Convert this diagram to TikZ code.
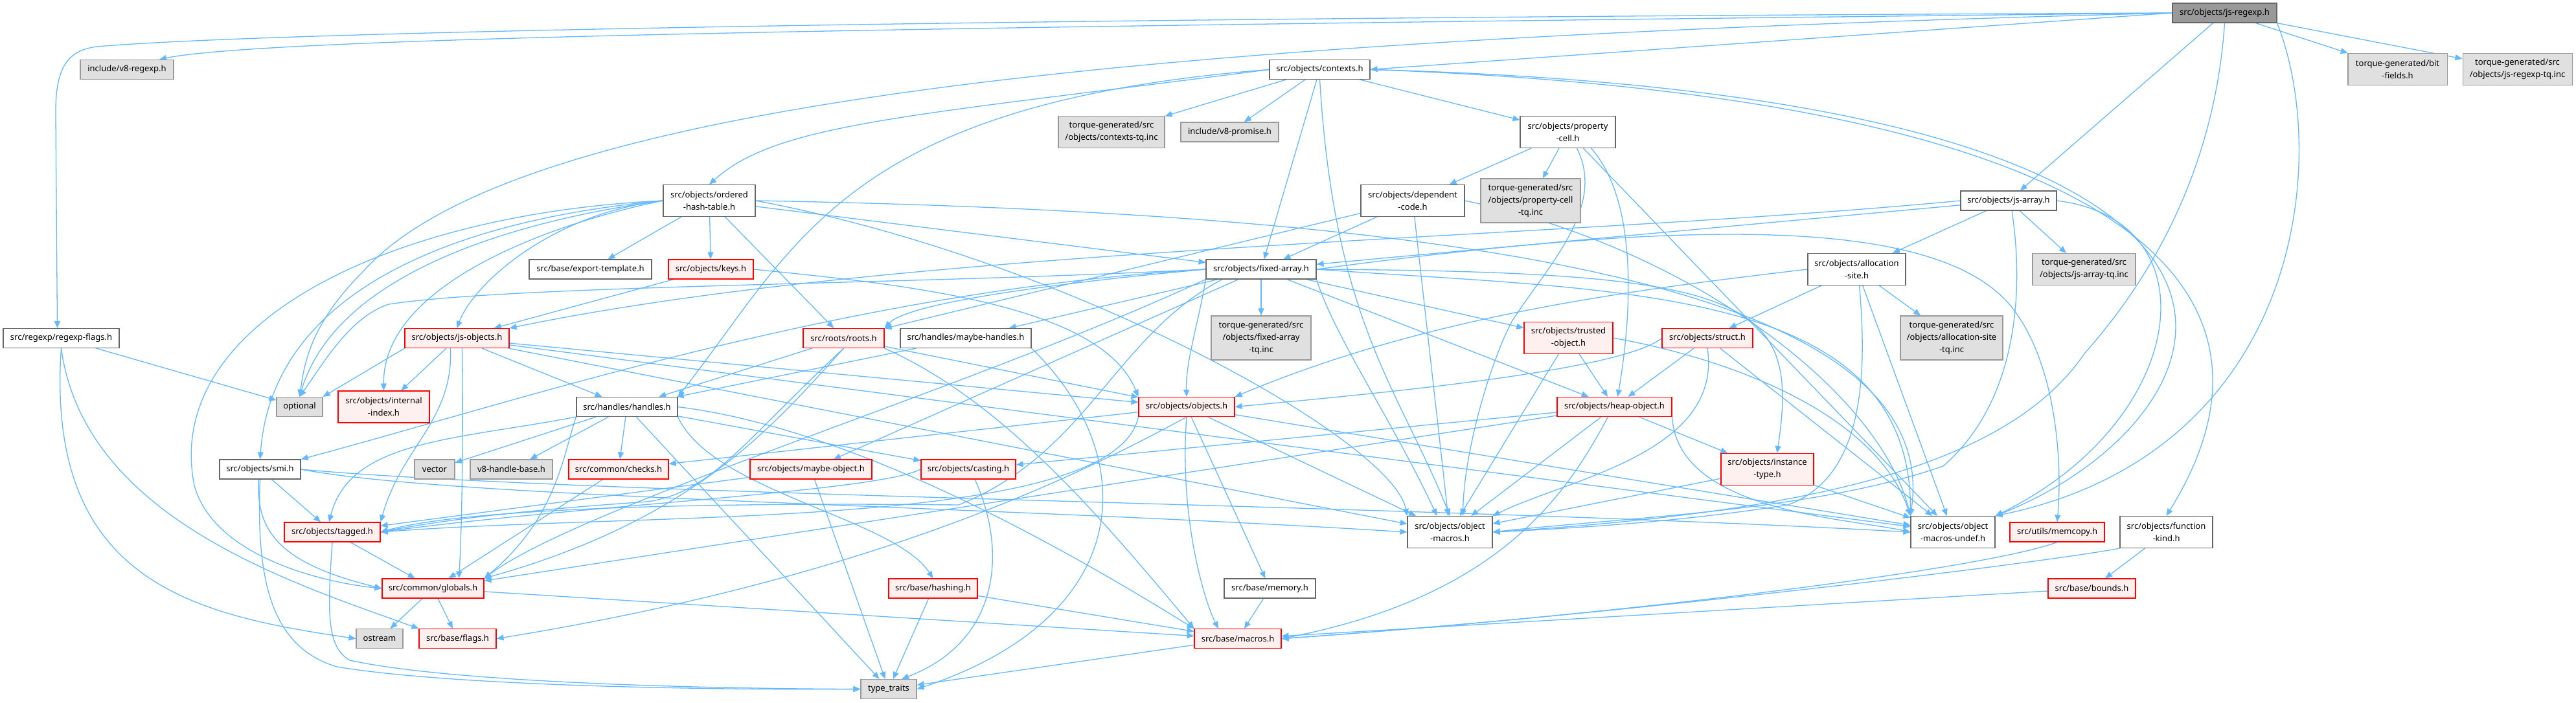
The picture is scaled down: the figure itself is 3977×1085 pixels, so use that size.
\documentclass[tikz,border=0pt]{standalone}
\usepackage{fontspec}
\setmainfont{Noto Sans}
\usetikzlibrary{arrows.meta}
\definecolor{cedge}{HTML}{63B8FF}
\definecolor{cdark}{HTML}{666666}
\definecolor{cmid}{HTML}{999999}
\definecolor{cgray}{HTML}{E0E0E0}
\definecolor{cred}{HTML}{FF0000}
\definecolor{cpink}{HTML}{FFF0F0}
\pgfdeclarelayer{bg}
\pgfsetlayers{bg,main}
\tikzset{
 box/.style={rectangle, line width=1.1pt, inner sep=0pt, align=center, font=\fontsize{13}{19}\selectfont},
 wn/.style={draw=cdark, fill=white},
 rn/.style={draw=cred, fill=cpink},
 gn/.style={draw=cmid, fill=cgray},
 rootn/.style={draw=cdark, fill=cmid},
 edge/.style={draw=cedge, line width=1.3pt, -{Triangle[length=11pt,width=9pt]}},
}
\newcommand\mk[6]{\node[box,#1,minimum width=#4pt,minimum height=#5pt] (#2) at (#3) {#6};}
\begin{document}
\begin{tikzpicture}[x=1pt,y=-1pt]
\useasboundingbox (0,0) rectangle (3977,1085);
\mk{rootn}{regexp}{3434.5,20}{161}{30}{src/objects/js-regexp.h}
\mk{gn}{v8regexp}{196,107.4}{144}{30}{include/v8-regexp.h}
\mk{wn}{contexts}{2037.5,107.4}{155}{30}{src/objects/contexts.h}
\mk{gn}{bitfields}{3701.5,107}{153}{49}{torque-generated/bit\\-fields.h}
\mk{gn}{regexptq}{3886.5,107}{169}{49}{torque-generated/src\\/objects/js-regexp-tq.inc}
\mk{gn}{contextstq}{1716,204}{164}{49}{torque-generated/src\\/objects/contexts-tq.inc}
\mk{gn}{promise}{1898.5,204}{151}{30}{include/v8-promise.h}
\mk{wn}{propcell}{2420.5,204}{147}{49}{src/objects/property\\-cell.h}
\mk{wn}{ordered}{1095,310}{142}{49}{src/objects/ordered\\-hash-table.h}
\mk{wn}{dependent}{2181,310}{160}{49}{src/objects/dependent\\-code.h}
\mk{gn}{propcelltq}{2363,310}{154}{68}{torque-generated/src\\/objects/property-cell\\-tq.inc}
\mk{wn}{jsarray}{3101,310}{148}{30}{src/objects/js-array.h}
\mk{wn}{exporttpl}{911.5,416}{189}{30}{src/base/export-template.h}
\mk{rn}{keys}{1097.5,416}{131}{30}{src/objects/keys.h}
\mk{wn}{fixedarray}{1947,416}{170}{30}{src/objects/fixed-array.h}
\mk{wn}{allocsite}{2866.5,416}{151}{49}{src/objects/allocation\\-site.h}
\mk{gn}{jsarraytq}{3217.5,416}{159}{49}{torque-generated/src\\/objects/js-array-tq.inc}
\mk{gn}{fixedarraytq}{1947,522}{154}{68}{torque-generated/src\\/objects/fixed-array\\-tq.inc}
\mk{gn}{allocsitetq}{3013,522}{158}{68}{torque-generated/src\\/objects/allocation-site\\-tq.inc}
\mk{rn}{trusted}{2421.5,522}{137}{49}{src/objects/trusted\\-object.h}
\mk{wn}{regexpflags}{94.5,522.5}{179}{30}{src/regexp/regexp-flags.h}
\mk{rn}{jsobjects}{705.5,522.5}{161}{30}{src/objects/js-objects.h}
\mk{rn}{roots}{1302.5,522.5}{125}{30}{src/roots/roots.h}
\mk{wn}{maybehandles}{1491,522.5}{202}{30}{src/handles/maybe-handles.h}
\mk{rn}{struct}{2636,522.5}{140}{30}{src/objects/struct.h}
\mk{gn}{optional}{462.5,628.5}{71}{30}{optional}
\mk{rn}{internalindex}{592.5,628.5}{141}{49}{src/objects/internal\\-index.h}
\mk{wn}{handles}{968,628.5}{156}{30}{src/handles/handles.h}
\mk{rn}{objects}{1832,628.5}{148}{30}{src/objects/objects.h}
\mk{rn}{heapobject}{2492.5,628.5}{177}{30}{src/objects/heap-object.h}
\mk{wn}{smi}{401.5,725}{125}{30}{src/objects/smi.h}
\mk{gn}{vector}{671,725}{62}{30}{vector}
\mk{gn}{handlebase}{789.5,725}{127}{30}{v8-handle-base.h}
\mk{rn}{checks}{955,725}{154}{30}{src/common/checks.h}
\mk{rn}{maybeobject}{1252,725}{188}{30}{src/objects/maybe-object.h}
\mk{rn}{casting}{1495,725}{146}{30}{src/objects/casting.h}
\mk{rn}{instancetype}{2728.5,725}{143}{49}{src/objects/instance\\-type.h}
\mk{wn}{objmacros}{2238.5,822}{131}{49}{src/objects/object\\-macros.h}
\mk{wn}{undef}{3015,822}{130}{49}{src/objects/object\\-macros-undef.h}
\mk{rn}{tagged}{513,822}{148}{30}{src/objects/tagged.h}
\mk{rn}{memcopy}{3176,822}{146}{30}{src/utils/memcopy.h}
\mk{wn}{functionkind}{3344.5,822}{143}{49}{src/objects/function\\-kind.h}
\mk{rn}{globals}{668.5,909}{157}{30}{src/common/globals.h}
\mk{rn}{hashing}{1440.5,909}{137}{30}{src/base/hashing.h}
\mk{wn}{memory}{1960.5,909}{141}{30}{src/base/memory.h}
\mk{rn}{bounds}{3229.5,909}{135}{30}{src/base/bounds.h}
\mk{gn}{ostream}{586,986.6}{72}{30}{ostream}
\mk{rn}{flags}{706.5,986.6}{119}{30}{src/base/flags.h}
\mk{rn}{macros}{1911,986.6}{134}{30}{src/base/macros.h}
\mk{gn}{typetraits}{1372,1064.5}{86}{30}{type\_traits}
\begin{pgfonlayer}{bg}
\fill[white] (0,0) rectangle (3977,1085);
% js-regexp.h
\draw[edge] (regexp.west) .. controls (1600,40) and (420,55) .. ([xshift=50pt]v8regexp.north);
\draw[edge] (regexp.west) .. controls (1500,28) and (400,50) .. (150,72) .. controls (100,78) and (85,110) .. (86,180) -- ([xshift=-6pt]regexpflags.north);
\draw[edge] (regexp.west) .. controls (1800,60) and (800,150) .. (560,420) .. controls (480,500) and (470,560) .. (optional.north);
\draw[edge] (regexp.west) -- (contexts.east);
\draw[edge] (regexp) -- (jsarray);
\draw[edge] (regexp.south) .. controls (3420,250) and (3330,420) .. (3219,545) .. controls (3100,720) and (2800,790) .. (objmacros.east);
\draw[edge] (regexp.south east) .. controls (3600,250) and (3550,700) .. (undef.north east);
\draw[edge] (regexp) -- (bitfields);
\draw[edge] (regexp) -- (regexptq);
% contexts.h
\draw[edge] (contexts) -- (contextstq);
\draw[edge] (contexts) -- (promise);
\draw[edge] (contexts) -- (propcell);
\draw[edge] (contexts) -- (fixedarray);
\draw[edge] (contexts.west) .. controls (1400,180) and (1200,190) .. (ordered.north);
\draw[edge] (contexts.west) .. controls (1300,160) and (1230,380) .. (handles.north east);
\draw[edge] (contexts.south) .. controls (2060,500) and (2160,600) .. (objmacros.north);
\draw[edge] (contexts.east) .. controls (3300,150) and (3560,450) .. (functionkind.north);
\draw[edge] (contexts.east) .. controls (3700,150) and (3450,650) .. (undef.north east);
% ordered-hash-table.h
\draw[edge] (ordered.west) .. controls (800,340) and (520,420) .. (optional.north);
\draw[edge] (ordered) -- (exporttpl);
\draw[edge] (ordered.west) .. controls (600,330) and (250,500) .. (300,750) .. controls (330,860) and (500,900) .. (globals.west);
\draw[edge] (ordered) -- (fixedarray);
\draw[edge] (ordered.west) .. controls (850,330) and (730,440) .. (jsobjects.north);
\draw[edge] (ordered) -- (keys);
\draw[edge] (ordered.west) .. controls (700,340) and (420,450) .. (smi.north);
\draw[edge] (ordered) -- (roots);
\draw[edge] (ordered.west) .. controls (850,345) and (590,440) .. (internalindex.north);
\draw[edge] (ordered.east) .. controls (1650,400) and (2150,680) .. (objmacros.north west);
\draw[edge] (ordered.east) .. controls (2300,330) and (3000,450) .. (undef.north west);
% property-cell.h
\draw[edge] (propcell) -- (dependent);
\draw[edge] (propcell) -- (propcelltq);
\draw[edge] ([xshift=36pt]propcell.south) .. controls (2520,300) and (2525,450) .. ([xshift=5pt]heapobject.north);
\draw[edge] ([xshift=14pt]propcell.south) .. controls (2480,320) and (2390,410) .. (2335,495) .. controls (2300,560) and (2260,700) .. ([xshift=20pt]objmacros.north);
\draw[edge] (propcell) -- (undef);
% dependent-code.h
\draw[edge] (dependent) -- (fixedarray);
\draw[edge] (dependent) -- (roots);
\draw[edge] (dependent) -- (objmacros);
\draw[edge] (dependent.east) .. controls (2600,380) and (2900,600) .. (undef.north west);
% js-array.h
\draw[edge] (jsarray) -- (allocsite);
\draw[edge] (jsarray) -- (fixedarray);
\draw[edge] (jsarray.west) .. controls (2400,370) and (1400,380) .. (jsobjects.north east);
\draw[edge] ([xshift=5pt]jsarray.south) .. controls (3125,450) and (3115,620) .. (3000,720) .. controls (2800,790) and (2500,800) .. (objmacros.east);
\draw[edge] (jsarray) -- (jsarraytq);
\draw[edge] (jsarray.east) .. controls (3420,340) and (3380,650) .. (undef.north east);
% allocation-site.h
\draw[edge] (allocsite.west) .. controls (2500,450) and (2200,490) .. (objects.north east);
\draw[edge] (allocsite) -- (struct);
\draw[edge] ([xshift=4pt]allocsite.south) .. controls (2885,600) and (2870,740) .. (2760,780) .. controls (2600,805) and (2450,815) .. (objmacros.east);
\draw[edge] (allocsite) -- (allocsitetq);
\draw[edge] (allocsite) -- (undef);
% struct.h
\draw[edge] (struct) -- (heapobject);
\draw[edge] (struct.west) .. controls (2500,575) and (2100,610) .. (objects.east);
\draw[edge] (struct.south) .. controls (2660,700) and (2420,740) .. (objmacros.north east);
\draw[edge] (struct) -- (undef);
% trusted-object.h
\draw[edge] (trusted) -- (heapobject);
\draw[edge] (trusted) -- (objmacros);
\draw[edge] (trusted.east) .. controls (2700,560) and (2900,650) .. (undef.north west);
% heap-object.h
\draw[edge] (heapobject) -- (globals);
\draw[edge] (heapobject) -- (casting);
\draw[edge] (heapobject) -- (instancetype);
\draw[edge] ([xshift=-10pt]heapobject.south) .. controls (2420,760) and (2320,920) .. (macros.east);
\draw[edge] (heapobject) -- (objmacros);
\draw[edge] (heapobject.south east) .. controls (2590,790) and (2850,800) .. (undef.west);
% instance-type.h
\draw[edge] (instancetype) -- (objmacros);
\draw[edge] (instancetype) -- (undef);
% fixed-array.h
\draw[edge] (fixedarray.west) .. controls (1400,440) and (800,440) .. (600,470) .. controls (540,490) and (500,560) .. (optional.north);
\draw[edge] (fixedarray.south west) .. controls (1500,600) and (900,780) .. (globals.north east);
\draw[edge] (fixedarray) -- (maybehandles);
\draw[edge] (fixedarray) -- (heapobject);
\draw[edge] (fixedarray.east) .. controls (2700,420) and (2780,460) .. ([xshift=15pt]instancetype.north);
\draw[edge] (fixedarray) -- (maybeobject);
\draw[edge] (fixedarray.south west) .. controls (1850,500) and (1830,560) .. (objects.north);
\draw[edge] (fixedarray.west) .. controls (1300,450) and (800,620) .. (smi.north east);
\draw[edge] ([xshift=-60pt]fixedarray.south) .. controls (1720,520) and (1680,700) .. (1480,780) .. controls (1000,775) and (700,790) .. (tagged.east);
\draw[edge] (fixedarray) -- (trusted);
\draw[edge] (fixedarray.west) .. controls (1600,440) and (1400,470) .. (roots.north east);
\draw[edge] (fixedarray.east) .. controls (2600,340) and (3000,330) .. (3110,480) .. controls (3170,560) and (3185,700) .. (memcopy.north);
\draw[edge] (fixedarray.south east) .. controls (2060,520) and (2150,650) .. ([xshift=-20pt]objmacros.north);
\draw[edge] (fixedarray) -- (fixedarraytq);
\draw[edge] (fixedarray.east) .. controls (2500,450) and (2950,440) .. (undef.north west);
% objects.h
\draw[edge] (objects) -- (checks);
\draw[edge] (objects.south west) .. controls (1720,820) and (1000,790) .. (tagged.east);
\draw[edge] (objects.south) .. controls (1620,760) and (1300,900) .. (flags.east);
\draw[edge] (objects) -- (memory);
\draw[edge] (objects.south) .. controls (1820,800) and (1860,930) .. ([xshift=-30pt]macros.north);
\draw[edge] (objects) -- (objmacros);
\draw[edge] (objects) -- (undef);
% roots.h
\draw[edge] (roots) -- (handles);
\draw[edge] (roots.south) .. controls (1200,650) and (1080,800) .. (globals.north east);
\draw[edge] (roots.south) .. controls (1150,680) and (1100,760) .. (1000,775) .. controls (850,785) and (700,800) .. (tagged.east);
\draw[edge] (roots.south east) .. controls (1550,620) and (1700,800) .. (macros.north west);
\draw[edge] (roots) -- (objects);
% maybe-handles.h
\draw[edge] (maybehandles) -- (handles);
\draw[edge] (maybehandles.south east) .. controls (1760,700) and (1760,950) .. (typetraits.east);
% handles.h
\draw[edge] (handles) -- (typetraits);
\draw[edge] (handles) -- (vector);
\draw[edge] (handles.east) .. controls (1300,660) and (1600,820) .. (macros.north west);
\draw[edge] (handles) -- (checks);
\draw[edge] (handles.south west) .. controls (870,700) and (860,800) .. (globals.north east);
\draw[edge] (handles) -- (casting);
\draw[edge] (handles.south west) .. controls (700,680) and (540,680) .. ([xshift=-5pt]tagged.north);
\draw[edge] (handles) -- (handlebase);
\draw[edge] (handles.south east) .. controls (1100,760) and (1380,800) .. (hashing.north);
% smi.h
\draw[edge] (smi) -- (tagged);
\draw[edge] ([xshift=-2pt]smi.south) .. controls (395,820) and (430,870) .. (globals.west);
\draw[edge] (smi.east) .. controls (700,770) and (1500,780) .. (objmacros.west);
\draw[edge] (smi.east) .. controls (900,765) and (2200,780) .. (undef.west);
\draw[edge] (smi.south) .. controls (395,900) and (420,1000) .. (520,1030) .. controls (700,1060) and (1100,1066) .. (typetraits.west);
% tagged.h
\draw[edge] (tagged) -- (globals);
\draw[edge] (tagged.south) .. controls (505,950) and (505,1000) .. (540,1020) .. controls (700,1055) and (1100,1064) .. (typetraits.west);
% globals.h
\draw[edge] (globals) -- (ostream);
\draw[edge] (globals) -- (flags);
\draw[edge] (globals) -- (macros);
% others
\draw[edge] (checks) -- (globals);
\draw[edge] (maybeobject) -- (tagged);
\draw[edge] (maybeobject) -- (typetraits);
\draw[edge] (casting.west) .. controls (1350,760) and (900,780) .. (tagged.east);
\draw[edge] ([xshift=10pt]casting.south) .. controls (1555,850) and (1545,990) .. ([xshift=20pt]typetraits.north);
\draw[edge] (hashing) -- (typetraits);
\draw[edge] (hashing) -- (macros);
\draw[edge] (memory) -- (macros);
\draw[edge] (memcopy.south) .. controls (3060,880) and (2500,950) .. (macros.east);
\draw[edge] (bounds) -- (macros);
\draw[edge] (functionkind) -- (bounds);
\draw[edge] (functionkind.south west) .. controls (3150,870) and (2500,950) .. (macros.east);
\draw[edge] (macros) -- (typetraits);
\draw[edge] (keys) -- (jsobjects);
\draw[edge] (keys.east) .. controls (1400,440) and (1700,470) .. (objects.north west);
% regexp-flags.h
\draw[edge] (regexpflags) -- (optional);
\draw[edge] (regexpflags.south) .. controls (70,900) and (300,950) .. (ostream.west);
\draw[edge] (regexpflags.south) .. controls (130,800) and (450,900) .. (flags.north west);
% js-objects.h
\draw[edge] (jsobjects.south west) -- (optional.north east);
\draw[edge] (jsobjects) -- (internalindex);
\draw[edge] ([xshift=8pt]jsobjects.south) .. controls (715,650) and (714,800) .. ([xshift=40pt]globals.north);
\draw[edge] (jsobjects) -- (handles);
\draw[edge] (jsobjects) -- (objects);
\draw[edge] ([xshift=-10pt]jsobjects.south) .. controls (700,650) and (620,690) .. (tagged.north east);
\draw[edge] (jsobjects) -- (objmacros);
\draw[edge] (jsobjects) -- (undef);
\end{pgfonlayer}
\end{tikzpicture}
\end{document}
